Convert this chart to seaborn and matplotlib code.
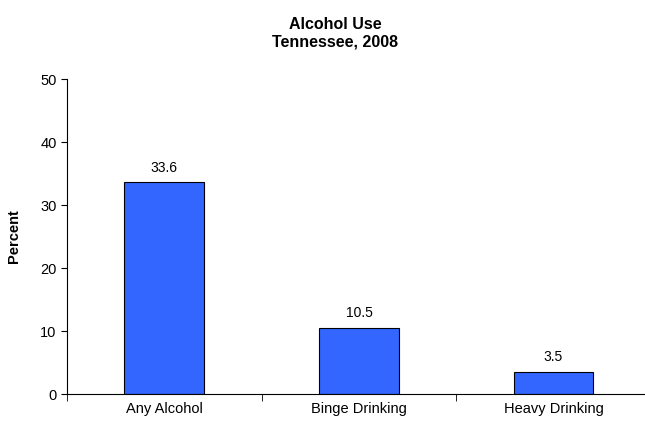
import matplotlib
matplotlib.use("Agg")
import matplotlib.pyplot as plt
import seaborn as sns
import pandas as pd

categories = ["Any Alcohol", "Binge Drinking", "Heavy Drinking"]
values = [33.6, 10.5, 3.5]
yticks = [0, 10, 20, 30, 40, 50]

sns.set_style("white")
plt.rcParams['font.family'] = ['Liberation Sans', 'DejaVu Sans']
plt.rcParams['text.color'] = 'black'
plt.rcParams['axes.labelcolor'] = 'black'
plt.rcParams['xtick.color'] = 'black'
plt.rcParams['ytick.color'] = 'black'

fig = plt.figure(figsize=(6.45, 4.28), dpi=100)
ax = fig.add_axes([0.104, 0.0794, 0.905, 0.736])
df = pd.DataFrame({"cat": categories, "val": values})
sns.barplot(data=df, x="cat", y="val", color="#3366FF", saturation=1,
            edgecolor="black", linewidth=0.8, width=0.41, ax=ax)
for i, v in enumerate(values):
    ax.text(i, v + 1.2, f"{v}", ha="center", va="bottom", fontsize=10)
ax.set_ylim(0, 50)
ax.set_xlim(-0.5, 2.5)
ax.set_yticks(yticks)
ax.tick_params(axis="y", length=4, direction="out", left=True, labelsize=10.5)
ax.set_xticks([0, 1, 2])
ax.set_xticks([-0.5, 0.5, 1.5, 2.5], minor=True)
ax.tick_params(axis="x", which="major", length=0, labelsize=10.5, pad=6)
ax.tick_params(axis="x", which="minor", length=5, direction="out", bottom=True)
for s in ["top", "right"]:
    ax.spines[s].set_visible(False)
for s in ["left", "bottom"]:
    ax.spines[s].set_color("black")
    ax.spines[s].set_linewidth(0.8)
ax.set_xlabel("")
ax.set_ylabel("Percent", fontweight="bold", fontsize=10.5, labelpad=14)
fig.text(0.52, 0.922, "Alcohol Use\nTennessee, 2008", ha="center", va="center",
         fontweight="bold", fontsize=11.5, linespacing=1.2)
fig.savefig("out.png", dpi=100)
